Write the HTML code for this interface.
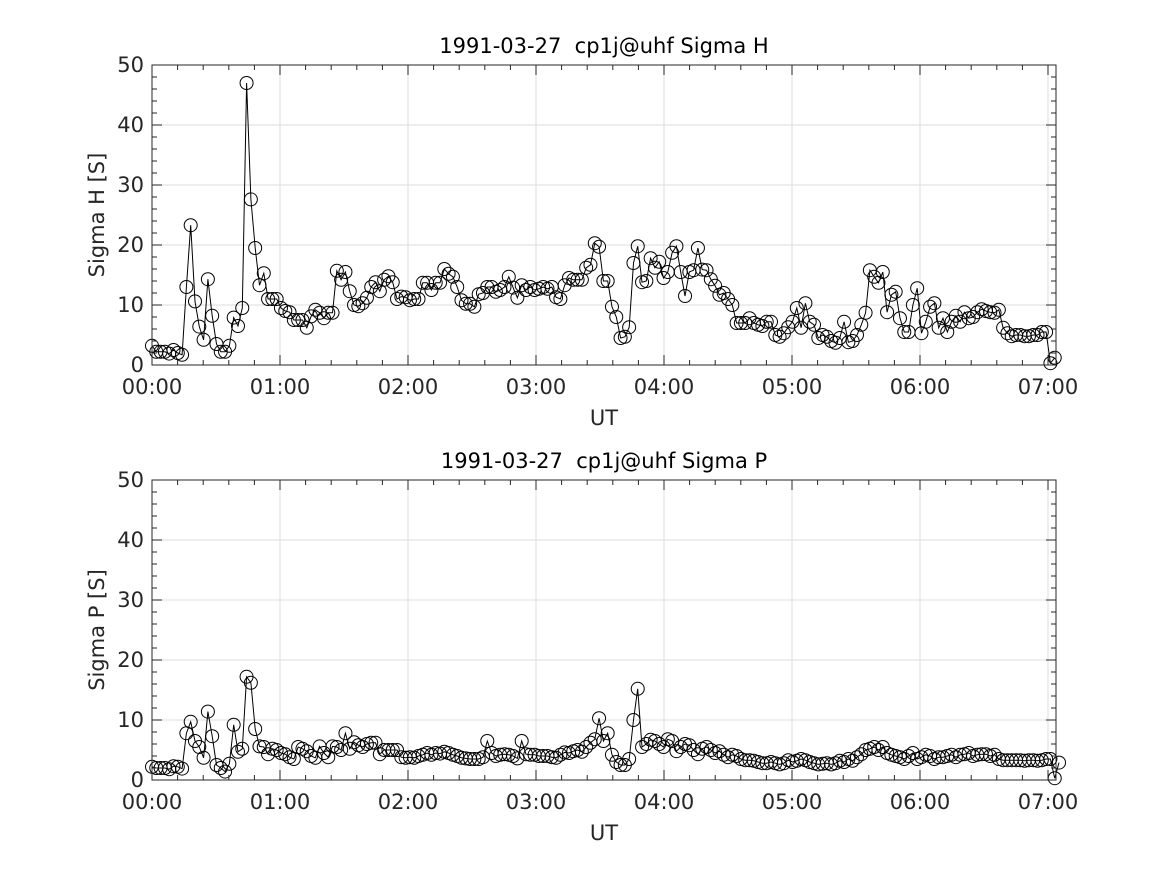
<!DOCTYPE html>
<html><head><meta charset="utf-8"><style>
body{margin:0;background:#fff;}
svg text{font-family:"DejaVu Sans","Liberation Sans",sans-serif;fill:#262626;white-space:pre;}
</style></head><body>
<svg id="fig" width="1167" height="875" xmlns="http://www.w3.org/2000/svg"></svg>
<script>
const sigmaH = [3.2,2.2,2.2,2.2,1.9,2.5,2.0,1.7,13.0,23.3,10.6,6.4,4.2,14.3,8.2,3.5,2.2,2.2,3.2,7.9,6.5,9.5,47,27.6,19.5,13.3,15.3,11,11,11,9.5,9,8.8,7.5,7.5,7.5,6.2,8.1,9.2,8.7,7.8,8.7,8.7,15.7,14.2,15.5,12.3,10,9.8,10.3,11.2,13,13.8,12.3,14.2,14.8,13.8,11,11.4,11.3,10.8,11,11,13.7,13.7,12.5,13.7,13.7,16,15.2,
14.7,13,10.8,10.2,10.2,9.7,11.8,12,13,13,12.2,12.5,13.0,14.7,12.9,11.2,13.3,12.5,13,12.5,12.7,13,12.7,13,11.3,11,13.3,14.5,14.2,14.2,14.2,16.2,16.7,20.3,19.7,14,14,9.7,8,4.5,4.7,6.3,17,19.8,13.8,14,17.8,16.2,17.2,14.5,15.5,18.7,19.8,15.5,11.5,15.5,15.8,19.5,15.9,15.8,14.3,13.2,11.7,12,11,10,7,7,7,7.8,7,
6.7,6.5,7.2,7.2,5,4.7,5.3,6.3,7.2,9.5,6.2,10.3,7.2,6.7,4.5,5,4.7,4,3.7,4.5,7.2,3.8,4,5,6.7,8.7,15.8,14.7,13.7,15.5,8.8,11.7,12.2,7.8,5.5,5.5,10,12.8,5.3,7.2,9.7,10.3,6.2,7.8,5.5,7.2,8.2,7.2,8.8,7.8,8,8.8,9.3,9,8.8,8.7,9.2,6.2,5.3,4.8,5,5,4.8,4.8,5,5,5.5,5.5,0.3,1.2];
const sigmaP = [2.2,2.0,2.0,2.0,1.8,2.3,2.2,1.9,7.8,9.7,6.5,5.5,3.7,11.4,7.3,2.5,2.0,1.4,2.7,9.2,4.7,5.2,17.2,16.2,8.5,
5.6,5.5,4.3,5.2,5.0,4.5,4.3,3.8,3.5,5.5,5.2,4.8,4.0,3.7,5.6,4.5,3.8,5.6,5.5,5.0,7.8,5.2,6.3,5.8,5.5,6.0,6.2,6.2,4.3,5.0,5.0,5.0,5.0,3.8,3.7,3.8,3.7,4.0,4.2,4.5,4.2,4.5,4.4,4.7,4.5,4.2,
4.0,3.7,3.6,3.5,3.5,3.5,3.8,6.5,4.5,4.0,4.2,4.3,4.2,4.0,3.6,6.5,4.3,4.2,4.2,4.0,4.0,4.0,3.8,3.7,4.2,4.6,4.5,4.8,5.0,4.7,5.5,6.2,6.8,10.3,6.5,7.8,4.2,3.0,2.5,2.5,3.5,10.0,15.2,5.5,6.0,6.7,6.5,6.0,5.5,6.8,6.5,4.8,5.5,6.0,5.8,5.0,4.3,5.2,5.5,5.0,4.5,4.8,4.2,3.8,4.2,4.0,3.5,3.3,3.3,3.2,
3.0,2.8,2.8,3.0,2.8,2.6,2.8,3.3,3.0,3.2,3.5,3.3,3.0,2.8,2.6,2.7,2.8,2.6,2.8,3.2,3.0,3.5,3.2,3.8,4.3,5.0,5.2,5.5,5.0,5.5,4.5,
4.2,4.0,3.8,3.5,4.0,4.5,3.5,3.8,4.2,4.0,3.5,3.8,3.8,4.0,4.2,3.8,4.2,4.3,4.5,4.0,4.2,4.3,4.3,4.0,4.2,3.5,3.3,3.3,3.3,3.3,3.3,3.2,3.3,3.3,3.2,3.3,3.5,3.5,0.3,2.9];
const stepMinutes = 2.015;
const xTickLabels = ["00:00","01:00","02:00","03:00","04:00","05:00","06:00","07:00"];
const yTickLabels = ["0","10","20","30","40","50"];

const NS="http://www.w3.org/2000/svg";
const svg=document.getElementById('fig');
function mk(tag,attrs,parent){const e=document.createElementNS(NS,tag);for(const k in attrs)e.setAttribute(k,attrs[k]);(parent||svg).appendChild(e);return e;}

function panel(top,data,title,ylabel,key){
  const L=152,R=1056,B=top+300;
  const xMaxH=7.0625;
  const xs=h=>L+(R-L)*h/xMaxH;
  const ys=v=>B-300*v/50;
  const g=mk('g',{});
  
  
  for(let h=1;h<=7;h++){const l=mk('line',{x1:xs(h),x2:xs(h),y1:top,y2:B,stroke:'#dcdcdc','stroke-width':1},g);
    }
  for(let v=10;v<50;v+=10){const l=mk('line',{x1:L,x2:R,y1:ys(v),y2:ys(v),stroke:'#dcdcdc','stroke-width':1},g);
    }
  const pts=data.map((v,i)=>xs(i*stepMinutes/60).toFixed(1)+','+ys(v).toFixed(1)).join(' ');
  const pl=mk('polyline',{points:pts,fill:'none',stroke:'#000','stroke-width':1},g);
  
  
  data.forEach((v,i)=>{const c=mk('circle',{cx:xs(i*stepMinutes/60),cy:ys(v),r:6.5,fill:'none',stroke:'#000','stroke-width':1},g);
    
    });
  for(let m=0;m<=xMaxH*60;m+=12){const x=xs(m/60);const len=(m%60===0)?10:5;
    mk('line',{x1:x,x2:x,y1:B,y2:B-len,stroke:'#262626'},g);mk('line',{x1:x,x2:x,y1:top,y2:top+len,stroke:'#262626'},g);}
  for(let v=0;v<=50;v+=2){const y=ys(v);const len=(v%10===0)?10:5;
    mk('line',{x1:L,x2:L+len,y1:y,y2:y,stroke:'#262626'},g);mk('line',{x1:R,x2:R-len,y1:y,y2:y,stroke:'#262626'},g);}
  const box=mk('rect',{x:L,y:top,width:R-L,height:300,fill:'none',stroke:'#262626','stroke-width':1},g);
  
  xTickLabels.forEach((t,i)=>{const e=mk('text',{x:xs(i),y:B+29,'font-size':21,'text-anchor':'middle'},g);e.textContent=t;
    });
  yTickLabels.forEach((t,i)=>{const e=mk('text',{x:L-8,y:ys(i*10)+7,'font-size':21,'text-anchor':'end'},g);e.textContent=t;
    });
  const tt=mk('text',{x:604,y:top-12,'font-size':21,'text-anchor':'middle',style:'fill:#000'},g);tt.textContent=title;
  
  const xl=mk('text',{x:604,y:B+60,'font-size':21,'text-anchor':'middle'},g);xl.textContent='UT';
  
  const yl=mk('text',{x:0,y:0,'font-size':21,'text-anchor':'middle',transform:`translate(104,${top+150}) rotate(-90)`},g);yl.textContent=ylabel;
  
}
panel(65,sigmaH,'1991-03-27  cp1j@uhf Sigma H','Sigma H [S]','sigma-h');
panel(480,sigmaP,'1991-03-27  cp1j@uhf Sigma P','Sigma P [S]','sigma-p');
</script>
</body></html>
